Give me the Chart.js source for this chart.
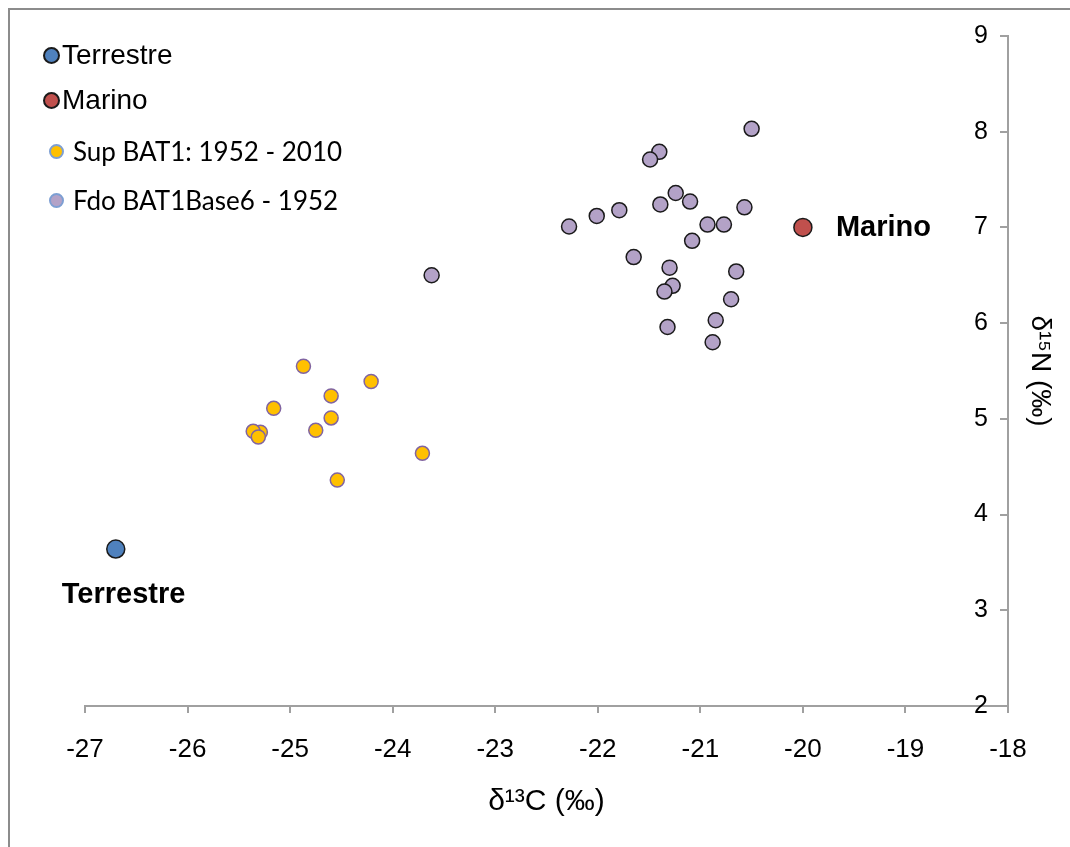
<!DOCTYPE html>
<html>
<head>
<meta charset="utf-8">
<script src="https://cdn.jsdelivr.net/npm/chart.js@4.4.1/dist/chart.umd.min.js"></script>
<style>
  html, body { margin: 0; padding: 0; background: #fff; overflow: hidden; }
  #wrap { position: relative; width: 1070px; height: 847px; }
  #frame { position: absolute; left: 8px; top: 8px; width: 2000px; height: 2000px;
           border-left: 2px solid #8c8c8c; border-top: 2px solid #8c8c8c; }
  canvas { position: absolute; left: 0; top: 0; }
  .leg { position: absolute; display: flex; align-items: center; white-space: nowrap; color: #000; }
  .leg i { display: inline-block; border-radius: 50%; box-sizing: border-box; }
</style>
</head>
<body>
<div id="wrap">
  <div id="frame"></div>
  <canvas id="chart" width="1070" height="847"></canvas>
  <div id="legend"></div>
</div>
<script>
// isotope values
const seriesNames = ['Terrestre', 'Marino', 'Sup BAT1: 1952 - 2010', 'Fdo BAT1Base6 - 1952'];

const terrestreX = [-26.7];
const terrestreY = [3.64];

const marinoX = [-20];
const marinoY = [7];

const supX = [-24.87, -24.21, -24.60, -25.16, -24.60, -25.29, -25.36, -25.31, -24.75, -23.71, -24.54];
const supY = [5.55, 5.39, 5.24, 5.11, 5.01, 4.86, 4.87, 4.81, 4.88, 4.64, 4.36];

const fdoX = [-20.50, -21.40, -21.49, -21.24, -21.39, -21.10, -20.57, -21.79, -22.01, -22.28, -20.93, -20.77,
              -21.08, -21.65, -21.30, -20.65, -21.27, -21.35, -20.70, -20.85, -21.32, -20.88, -23.62];
const fdoY = [8.03, 7.79, 7.71, 7.36, 7.24, 7.27, 7.21, 7.18, 7.12, 7.01, 7.03, 7.03,
              6.86, 6.69, 6.58, 6.54, 6.39, 6.33, 6.25, 6.03, 5.96, 5.80, 6.50];

const xMin = -27, xMax = -18;
const yMin = 2, yMax = 9;

const toPoints = (xs, ys) => xs.map((x, i) => ({ x: x, y: ys[i] }));

const tickFont = "'Liberation Sans Narrow', 'Arial Narrow', 'Liberation Sans', Arial, sans-serif";
const axisGray = '#a0a0a0';

// legend (top-left, inside the plot)
const legendItems = [
  { fill: '#4f81bd', border: '#1a1a1a', size: 17, x: 43, y: 55, tx: 0, font: "28px 'Liberation Sans', Arial" },
  { fill: '#c0504d', border: '#1a1a1a', size: 17, x: 43, y: 100, tx: 0, font: "28px 'Liberation Sans', Arial" },
  { fill: '#ffc000', border: '#7d9fd3', size: 15, x: 49, y: 151, tx: 7, font: "26px Lato, 'Open Sans', sans-serif" },
  { fill: '#b3a2c7', border: '#7d9fd3', size: 15, x: 49, y: 200, tx: 7, font: "26px Lato, 'Open Sans', sans-serif" }
];
const legendEl = document.getElementById('legend');
legendItems.forEach((it, i) => {
  const d = document.createElement('div');
  d.className = 'leg';
  d.style.left = it.x + 'px';
  d.style.top = (it.y - 17) + 'px';
  d.style.height = '34px';
  d.style.font = it.font;
  d.innerHTML = '<i style="width:' + it.size + 'px;height:' + it.size + 'px;background:' + it.fill +
    ';border:2px solid ' + it.border + ';margin-right:' + (2 + it.tx) + 'px"></i><span></span>';
  d.querySelector('span').textContent = seriesNames[i];
  legendEl.appendChild(d);
});

// bold labels beside the two reference points
const pointLabels = {
  id: 'pointLabels',
  afterDatasetsDraw(chart) {
    const ctx = chart.ctx;
    ctx.save();
    ctx.font = "bold 29px 'Liberation Sans', Arial, sans-serif";
    ctx.fillStyle = '#000';
    ctx.textBaseline = 'middle';
    ctx.textAlign = 'left';
    const t = chart.getDatasetMeta(0).data[0];
    ctx.fillText(seriesNames[0], t.x - 54, t.y + 46);
    const m = chart.getDatasetMeta(1).data[0];
    ctx.fillText(seriesNames[1], m.x + 33, m.y + 1);
    ctx.restore();
  }
};

new Chart(document.getElementById('chart'), {
  type: 'scatter',
  data: {
    datasets: [
      {
        label: seriesNames[0],
        data: toPoints(terrestreX, terrestreY),
        backgroundColor: '#4f81bd',
        borderColor: '#1a1a1a',
        borderWidth: 1.5,
        pointRadius: 9
      },
      {
        label: seriesNames[1],
        data: toPoints(marinoX, marinoY),
        backgroundColor: '#c0504d',
        borderColor: '#1a1a1a',
        borderWidth: 1.5,
        pointRadius: 9
      },
      {
        label: seriesNames[2],
        data: toPoints(supX, supY),
        backgroundColor: '#ffc000',
        borderColor: '#8064a2',
        borderWidth: 1.5,
        pointRadius: 7
      },
      {
        label: seriesNames[3],
        data: toPoints(fdoX, fdoY),
        backgroundColor: '#b3a2c7',
        borderColor: '#1a1a1a',
        borderWidth: 1.5,
        pointRadius: 7.5
      }
    ]
  },
  options: {
    responsive: false,
    animation: false,
    layout: { padding: { left: 85, top: 36, right: 0, bottom: 0 } },
    plugins: {
      legend: { display: false },
      tooltip: { enabled: false }
    },
    scales: {
      x: {
        type: 'linear',
        position: 'bottom',
        min: xMin,
        max: xMax,
        afterFit: (scale) => { scale.height = 141; },
        border: { color: axisGray, width: 2 },
        grid: { drawOnChartArea: false, color: axisGray, lineWidth: 2, tickLength: 7 },
        ticks: {
          stepSize: 1,
          padding: 21,
          color: '#000',
          font: { family: tickFont, size: 26 }
        },
        title: {
          display: true,
          text: 'δ¹³C (‰)',
          color: '#000',
          padding: { top: 0, bottom: 27 },
          font: { family: tickFont, size: 30 }
        }
      },
      y: {
        type: 'linear',
        position: 'right',
        min: yMin,
        max: yMax,
        afterFit: (scale) => { scale.width = 62; },
        border: { color: axisGray, width: 2 },
        grid: { drawOnChartArea: false, color: axisGray, lineWidth: 2, tickLength: -8 },
        ticks: {
          stepSize: 1,
          mirror: true,
          padding: -20,
          color: '#000',
          font: { family: tickFont, size: 25 }
        },
        title: {
          display: true,
          text: 'δ¹⁵N (‰)',
          color: '#000',
          padding: { top: 13, bottom: 13 },
          font: { family: tickFont, size: 28 }
        }
      }
    }
  },
  plugins: [pointLabels]
});
</script>
</body>
</html>
